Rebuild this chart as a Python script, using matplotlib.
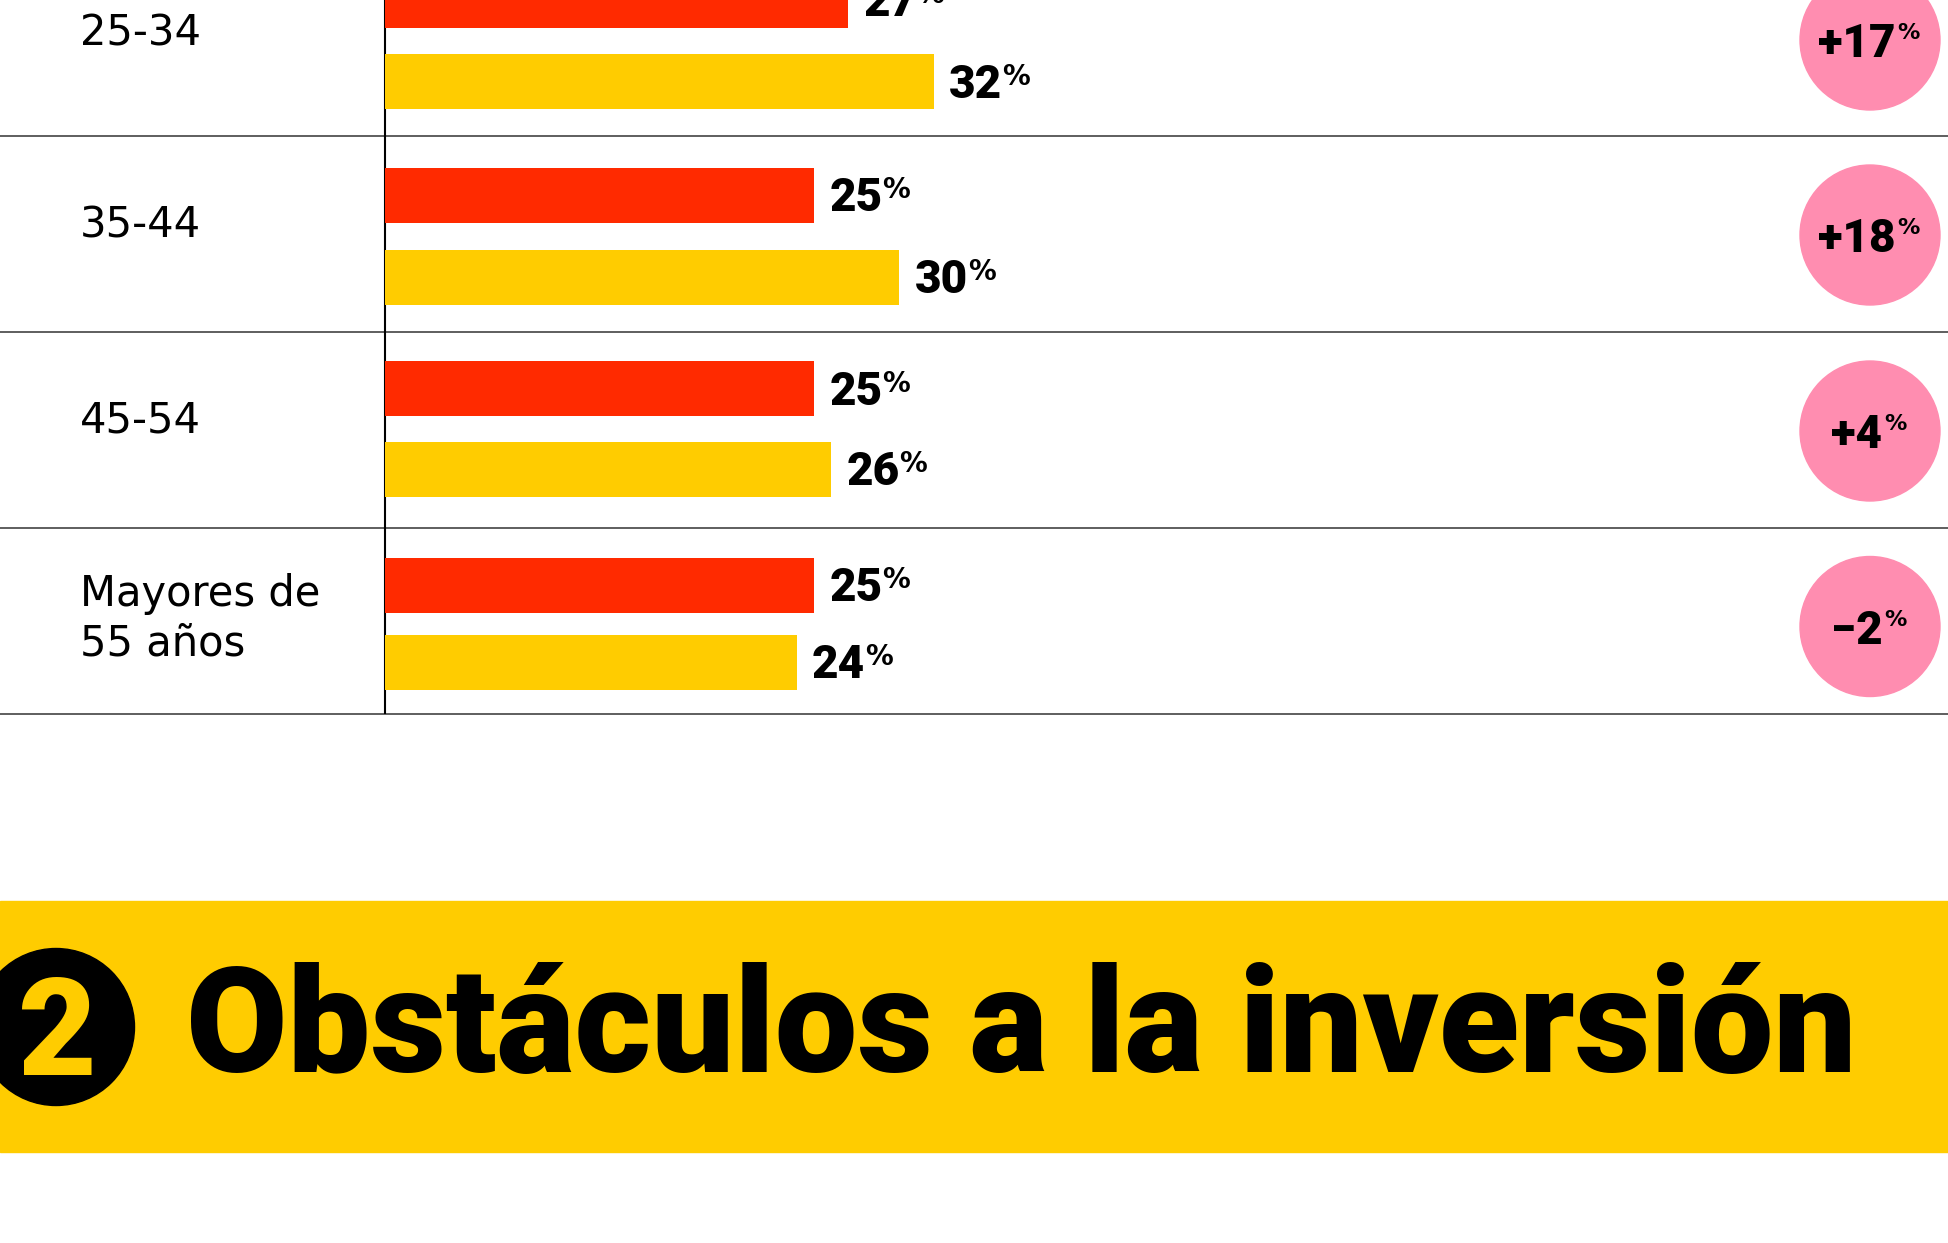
import matplotlib
matplotlib.use('Agg')
import matplotlib.pyplot as plt
from matplotlib.patches import Circle, Rectangle

# Datos
edades = ['25-34', '35-44', '45-54', 'Mayores de\n55 años']
serie_roja = [27, 25, 25, 25]
serie_amarilla = [32, 30, 26, 24]
variacion = [17, 18, 4, -2]
titulo = 'Obstáculos a la inversión'
numero_seccion = '2'

ROJO = '#FF2A00'
AMARILLO = '#FFCC00'
ROSA = '#FF8DB0'

# Maquetación en píxeles (y hacia abajo)
W, H = 1949, 1243
X0 = 385            # posición del eje vertical
PX_POR_PCT = 17.15  # escala de las barras
bordes = [-61, 135.5, 332, 528, 713.5]
y_roja = [0, 195, 388.5, 585]
y_amarilla = [81.5, 277, 469, 662]
y_circulo = [40, 235, 431, 626.5]
y_etiqueta = [33, 225, 420, 619]
X_CIRCULO, R_CIRCULO = 1870, 70
ALTO_BARRA = 55

fig = plt.figure(figsize=(W / 100, H / 100), dpi=100)
fig.patch.set_facecolor('white')

# Fondo en coordenadas de píxel
bg = fig.add_axes([0, 0, 1, 1])
bg.set_xlim(0, W)
bg.set_ylim(H, 0)
bg.axis('off')

# Ejes de las barras: x en %, y en píxeles
ax = fig.add_axes([0, 0, 1, 1])
ax.set_xlim(-X0 / PX_POR_PCT, (W - X0) / PX_POR_PCT)
ax.set_ylim(H, 0)
ax.axis('off')
ax.patch.set_alpha(0)

# Separadores de filas y eje
bg.hlines(bordes[1:], 0, W, color='#333333', linewidth=1.1)
bg.vlines(X0, 0, bordes[-1], color='black', linewidth=1.5)

# Barras
ax.barh(y_roja, serie_roja, height=ALTO_BARRA, color=ROJO)
ax.barh(y_amarilla, serie_amarilla, height=ALTO_BARRA, color=AMARILLO)

fuente_negra = dict(fontfamily='Roboto', fontweight='black', color='black')
fuente_pct = dict(fontfamily='DejaVu Sans', fontweight='bold', color='black')
for valores, ys in ((serie_roja, y_roja), (serie_amarilla, y_amarilla)):
    for v, y in zip(valores, ys):
        t = ax.text(v + 0.9, y + 16, str(v), ha='left', va='baseline',
                    fontsize=33, **fuente_negra)
        ax.annotate('%', xy=(1, 1), xycoords=t, xytext=(0, 0),
                    textcoords='offset points', ha='left', va='top',
                    fontsize=20, **fuente_pct)

# Etiquetas de edad
for etiqueta, yc in zip(edades, y_etiqueta):
    bg.text(80, yc, etiqueta, ha='left', va='center', fontsize=30,
            fontfamily='DejaVu Sans', color='black', linespacing=1.22)

# Círculos de variación
for v, yc in zip(variacion, y_circulo):
    bg.add_patch(Circle((X_CIRCULO, yc), R_CIRCULO, color=ROSA, zorder=3))
    txt = f'{v:+d}'.replace('-', '\u2212')
    t = bg.text(X_CIRCULO - 13, yc + 17, txt, ha='center', va='baseline',
                fontsize=33, zorder=4, **fuente_negra)
    bg.annotate('%', xy=(1, 1), xycoords=t, xytext=(1, -1),
                textcoords='offset points', ha='left', va='top',
                fontsize=16, zorder=4, **fuente_pct)

# Banda del título
bg.add_patch(Rectangle((0, 901), W, 251, color=AMARILLO, zorder=1))
bg.add_patch(Circle((56, 1027), 78.5, color='black', zorder=2))
bg.text(57, 1075, numero_seccion, ha='center', va='baseline', fontsize=98,
        fontfamily='Roboto', fontweight='black', color=AMARILLO, zorder=3)
bg.text(186, 1072, titulo, ha='left', va='baseline', fontsize=106,
        fontfamily='Roboto', fontweight='black', color='black', zorder=3)

plt.savefig('out.png', dpi=100, facecolor='white')
